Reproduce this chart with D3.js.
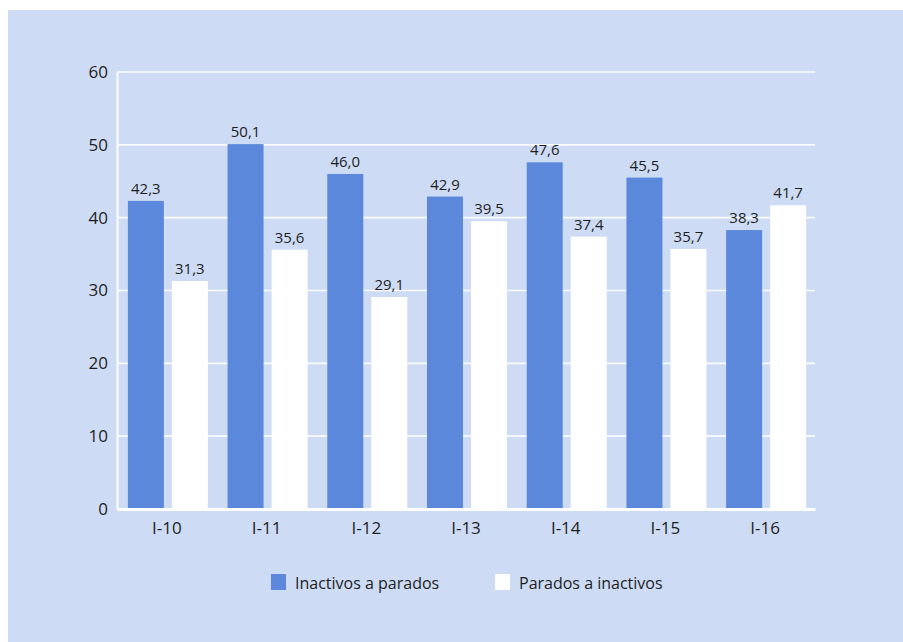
<!DOCTYPE html>
<html>
<head>
<meta charset="utf-8">
<script src="https://cdn.jsdelivr.net/npm/d3@7/dist/d3.min.js"></script>
<style>
  html, body { margin: 0; padding: 0; background: #ffffff; }
  svg { display: block; }
  text { font-family: "Open Sans", "Noto Sans", sans-serif; fill: #1e1e1e; }
</style>
</head>
<body>
<svg id="chart" width="903" height="642"></svg>
<script>
// Quarterly flows (%), first quarter of each year
const categories = ["I-10", "I-11", "I-12", "I-13", "I-14", "I-15", "I-16"];
const inactivosAParados = [42.3, 50.1, 46.0, 42.9, 47.6, 45.5, 38.3];
const paradosAInactivos = [31.3, 35.6, 29.1, 39.5, 37.4, 35.7, 41.7];
const seriesNames = ["Inactivos a parados", "Parados a inactivos"];
const seriesColors = ["#5b88db", "#ffffff"];
const yTicks = [0, 10, 20, 30, 40, 50, 60];

const svg = d3.select("#chart");

// light blue panel behind the whole figure
svg.append("rect")
  .attr("x", 8).attr("y", 10)
  .attr("width", 895).attr("height", 632)
  .attr("fill", "#cddcf4");

const plot = { left: 117, right: 815, top: 72, bottom: 509 };

const x = d3.scaleBand()
  .domain(categories)
  .range([plot.left, plot.right])
  .paddingInner(0)
  .paddingOuter(0);

const y = d3.scaleLinear()
  .domain([0, 60])
  .range([plot.bottom, plot.top]);

const barW = 36, barGap = 8, groupShift = 1;
const fmt = v => v.toFixed(1).replace(".", ",");

// horizontal gridlines
svg.append("g")
  .selectAll("line")
  .data(yTicks.filter(t => t > 0))
  .join("line")
  .attr("x1", plot.left).attr("x2", plot.right)
  .attr("y1", d => y(d)).attr("y2", d => y(d))
  .attr("stroke", "#ffffff")
  .attr("stroke-opacity", 0.9)
  .attr("stroke-width", 1.6);

// y axis
const yAxis = svg.append("g")
  .attr("transform", `translate(${plot.left},0)`)
  .call(d3.axisLeft(y).tickValues(yTicks).tickSize(0).tickPadding(9));
yAxis.select(".domain").attr("stroke", "#ffffff").attr("stroke-width", 2);
yAxis.selectAll("text")
  .style("font-family", '"Open Sans", sans-serif')
  .style("font-size", "17px")
  .attr("fill", "#1e1e1e");

// bars
const series = [inactivosAParados, paradosAInactivos];
series.forEach((vals, si) => {
  const off = (si === 0 ? -barGap / 2 - barW : barGap / 2) + groupShift;
  const g = svg.append("g");
  g.selectAll("rect")
    .data(categories)
    .join("rect")
    .attr("x", (c) => x(c) + x.bandwidth() / 2 + off)
    .attr("y", (c, i) => y(vals[i]))
    .attr("width", barW)
    .attr("height", (c, i) => y(0) - y(vals[i]))
    .attr("fill", seriesColors[si]);
  g.selectAll("text")
    .data(categories)
    .join("text")
    .attr("x", (c) => x(c) + x.bandwidth() / 2 + off + barW / 2)
    .attr("y", (c, i) => y(vals[i]) - 7)
    .attr("text-anchor", "middle")
    .style("font-size", "15px")
    .text((c, i) => fmt(vals[i]));
});

// x axis baseline and labels
const xAxis = svg.append("g")
  .attr("transform", `translate(0,${plot.bottom})`)
  .call(d3.axisBottom(x).tickSize(0).tickPadding(13));
xAxis.select(".domain").attr("stroke", "#ffffff").attr("stroke-width", 3);
xAxis.selectAll("text")
  .style("font-family", '"Open Sans", sans-serif')
  .style("font-size", "17px")
  .attr("fill", "#1e1e1e");

// legend
const legendX = [271, 495];
const legend = svg.append("g");
seriesNames.forEach((name, i) => {
  legend.append("rect")
    .attr("x", legendX[i]).attr("y", 574)
    .attr("width", 15).attr("height", 16)
    .attr("fill", seriesColors[i]);
  legend.append("text")
    .attr("x", legendX[i] + 24).attr("y", 589)
    .style("font-size", "16px")
    .text(name);
});
</script>
</body>
</html>
